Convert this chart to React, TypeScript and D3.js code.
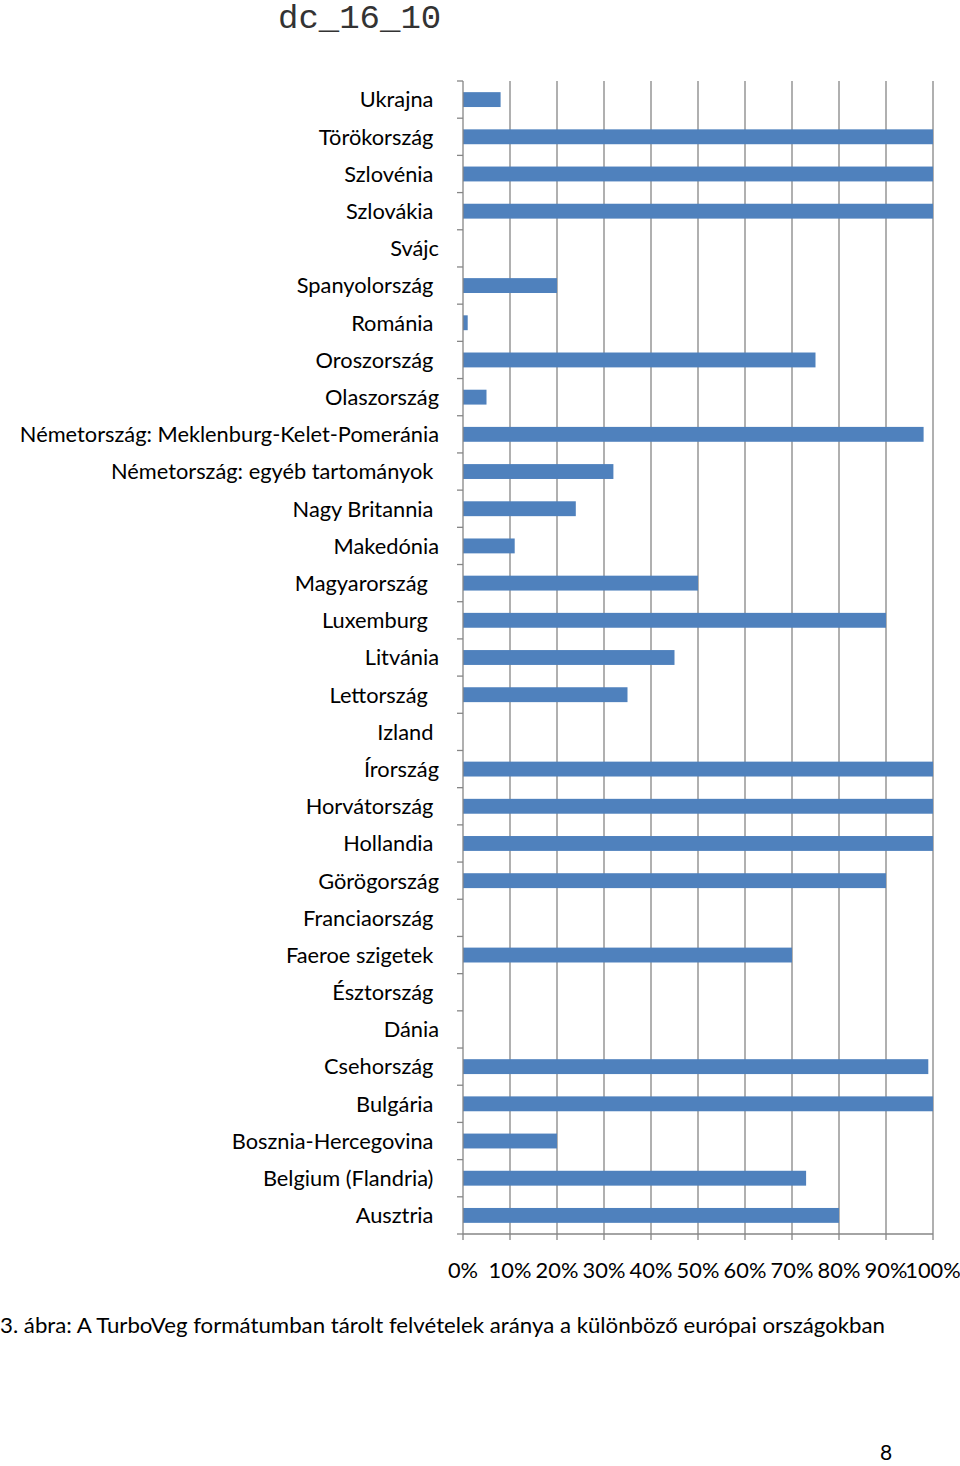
import React from 'react';
import * as d3 from 'd3';

// categories as they appear top to bottom (trailing spaces kept, they shift the right-aligned labels)
const countries = [
  'Ukrajna ',
  'Törökország ',
  'Szlovénia ',
  'Szlovákia ',
  'Svájc',
  'Spanyolország ',
  'Románia ',
  'Oroszország ',
  'Olaszország',
  'Németország: Meklenburg-Kelet-Pomeránia',
  'Németország: egyéb tartományok ',
  'Nagy Britannia ',
  'Makedónia',
  'Magyarország  ',
  'Luxemburg  ',
  'Litvánia',
  'Lettország  ',
  'Izland ',
  'Írország',
  'Horvátország ',
  'Hollandia ',
  'Görögország',
  'Franciaország ',
  'Faeroe szigetek ',
  'Észtország ',
  'Dánia',
  'Csehország ',
  'Bulgária ',
  'Bosznia-Hercegovina ',
  'Belgium (Flandria) ',
  'Ausztria ',
];

// share of relevés stored in TurboVeg format
const shares = [
  0.08, 1.0, 1.0, 1.0, 0, 0.2, 0.01, 0.75, 0.05, 0.98, 0.32, 0.24, 0.11, 0.5, 0.9, 0.45,
  0.35, 0, 1.0, 1.0, 1.0, 0.9, 0, 0.7, 0, 0, 0.99, 1.0, 0.2, 0.73, 0.8,
];

const xTicks = [0, 0.1, 0.2, 0.3, 0.4, 0.5, 0.6, 0.7, 0.8, 0.9, 1.0];

const title = 'dc_16_10';
const caption = '3. ábra: A TurboVeg formátumban tárolt felvételek aránya a különböző európai országokban';
const pageNumber = '8';

const W = 960;
const H = 1466;
const left = 463;
const right = 933;
const top = 81;
const bottom = 1234;

const labelFont = 'Lato, "Open Sans", sans-serif';
const gridColor = '#868686';
const barColor = '#4F81BD';

export default function App() {
  const x = d3.scaleLinear().domain([0, 1]).range([left, right]);
  const y = d3.scaleBand<string>()
    .domain(countries)
    .range([top, bottom])
    .paddingInner(0.6)
    .paddingOuter(0.3);
  const step = y.step();
  const bounds = d3.range(countries.length + 1).map(i => top + i * step);
  const pct = d3.format('.0%');

  return (
    <svg
      width={W}
      height={H}
      style={{ position: 'absolute', left: 0, top: 0, display: 'block', background: '#fff' }}
    >
      <text x={278} y={28} fontFamily='"Liberation Mono", "DejaVu Sans Mono", monospace' fontSize={34} fill="#333">
        {title}
      </text>

      {/* vertical gridlines */}
      <g stroke={gridColor} strokeWidth={1.3}>
        {xTicks.slice(1).map(t => (
          <line key={t} x1={x(t)} x2={x(t)} y1={top} y2={bottom} />
        ))}
      </g>

      {/* bars */}
      <g fill={barColor}>
        {countries.map((c, i) => (
          <rect key={c} x={x(0)} y={y(c)} width={x(shares[i]) - x(0)} height={y.bandwidth()} />
        ))}
      </g>

      {/* category axis */}
      <g stroke={gridColor} strokeWidth={1.3}>
        <line x1={left} x2={left} y1={top} y2={bottom} />
        {bounds.map((b, i) => (
          <line key={i} x1={left - 6} x2={left} y1={b} y2={b} />
        ))}
      </g>

      {/* value axis */}
      <g stroke={gridColor} strokeWidth={1.3}>
        <line x1={left} x2={right} y1={bottom} y2={bottom} />
        {xTicks.map(t => (
          <line key={t} x1={x(t)} x2={x(t)} y1={bottom} y2={bottom + 6} />
        ))}
      </g>

      <g fontFamily={labelFont} fontSize={21.8} fill="#000" style={{ whiteSpace: 'pre' }}>
        {countries.map(c => (
          <text key={c} x={439} y={(y(c) ?? 0) + y.bandwidth() / 2} dy="0.36em" textAnchor="end" xmlSpace="preserve">
            {c}
          </text>
        ))}
        {xTicks.map(t => (
          <text key={t} x={x(t)} y={1278} textAnchor="middle">
            {pct(t)}
          </text>
        ))}
      </g>

      <text
        x={0}
        y={1333}
        fontFamily={labelFont}
        fontSize={22}
        fill="#000"
        textLength={885}
        lengthAdjust="spacingAndGlyphs"
      >
        {caption}
      </text>
      <text x={880} y={1460} fontFamily={labelFont} fontSize={21} fill="#000">
        {pageNumber}
      </text>
    </svg>
  );
}
